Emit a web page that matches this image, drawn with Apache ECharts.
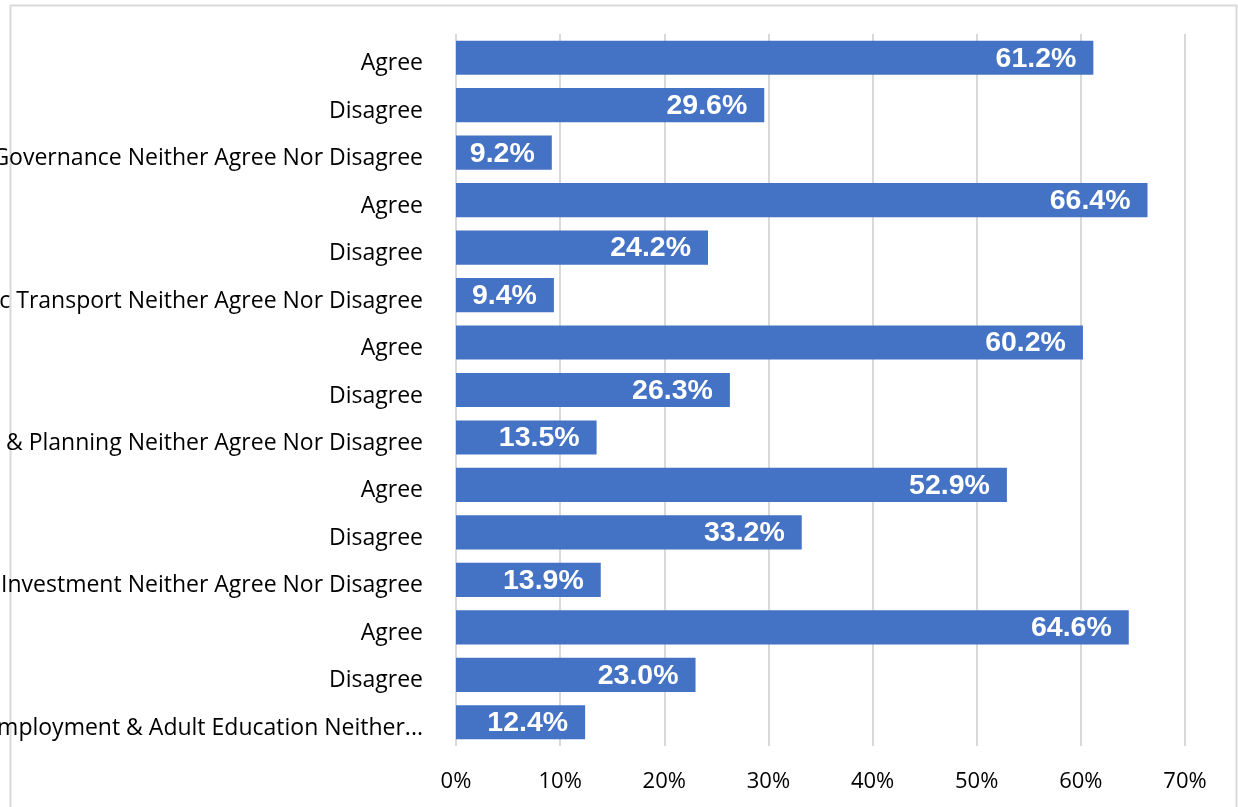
<!DOCTYPE html>
<html>
<head>
<meta charset="utf-8">
<script src="https://cdn.jsdelivr.net/npm/echarts@6/dist/echarts.min.js"></script>
<style>
html,body{margin:0;padding:0;background:#fff;}
#chart{width:1238px;height:807px;}
</style>
</head>
<body>
<div id="chart"></div>
<script>
const categories = [
  "Agree",
  "Disagree",
  "Governance Neither Agree Nor Disagree",
  "Agree",
  "Disagree",
  "Public Transport Neither Agree Nor Disagree",
  "Agree",
  "Disagree",
  "Housing & Planning Neither Agree Nor Disagree",
  "Agree",
  "Disagree",
  "Economic Investment Neither Agree Nor Disagree",
  "Agree",
  "Disagree",
  "Employment & Adult Education Neither..."
];
const values = [61.2, 29.6, 9.2, 66.4, 24.2, 9.4, 60.2, 26.3, 13.5, 52.9, 33.2, 13.9, 64.6, 23.0, 12.4];
const xTicks = [0, 10, 20, 30, 40, 50, 60, 70];

const chart = echarts.init(document.getElementById('chart'));
chart.setOption({
  animation: false,
  backgroundColor: '#ffffff',
  graphic: [{
    type: 'rect',
    silent: true,
    z: -10,
    shape: { x: 10.5, y: 5.5, width: 1226, height: 820 },
    style: { fill: 'none', stroke: '#d9d9d9', lineWidth: 2 }
  }],
  grid: { left: 456, right: 53, top: 34, bottom: 61, containLabel: false, outerBoundsMode: 'none' },
  xAxis: {
    type: 'value',
    min: xTicks[0],
    max: xTicks[xTicks.length - 1],
    interval: 10,
    axisLine: { show: false },
    axisTick: { show: false },
    splitLine: { show: true, lineStyle: { color: '#d9d9d9', width: 2 } },
    axisLabel: {
      formatter: v => v + '%',
      fontFamily: 'Open Sans',
      fontSize: 22,
      color: '#000',
      margin: 25
    }
  },
  yAxis: {
    type: 'category',
    inverse: true,
    data: categories,
    axisLine: { show: false },
    axisTick: { show: false },
    axisLabel: {
      fontFamily: 'Open Sans',
      fontSize: 23,
      color: '#000',
      margin: 33,
      interval: 0,
      verticalAlign: 'top',
      lineHeight: 12
    }
  },
  series: [{
    type: 'bar',
    data: values,
    barCategoryGap: '28%',
    itemStyle: { color: '#4472C4' },
    label: {
      show: true,
      position: 'insideRight',
      distance: 17,
      offset: [0, 1],
      formatter: p => p.value.toFixed(1) + '%',
      fontFamily: 'Liberation Sans',
      fontWeight: 'bold',
      fontSize: 28.5,
      color: '#ffffff'
    }
  }]
});
</script>
</body>
</html>
